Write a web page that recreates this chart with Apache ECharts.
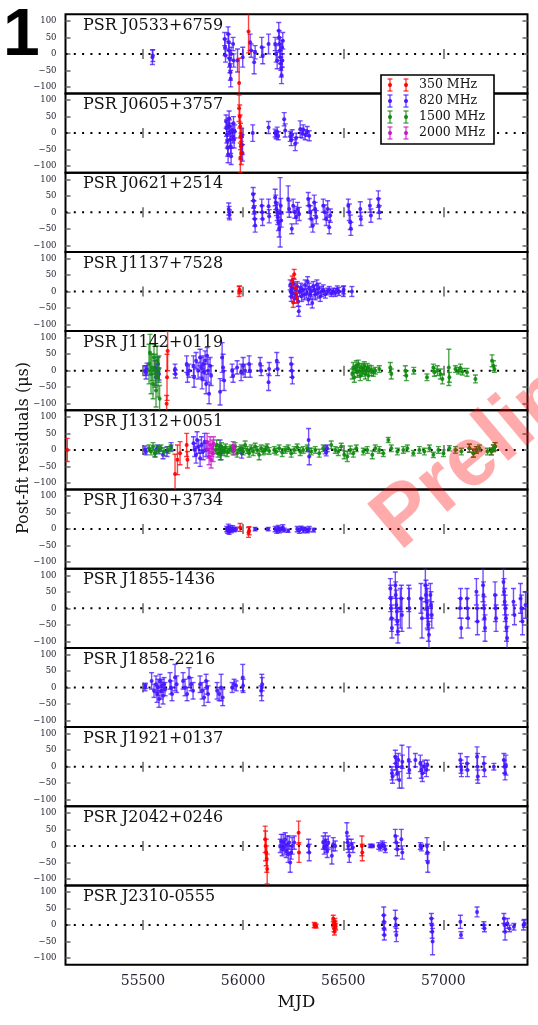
<!DOCTYPE html>
<html>
<head>
<meta charset="utf-8">
<script src="https://cdn.jsdelivr.net/npm/echarts@6/dist/echarts.min.js"></script>
<style>
  html, body { margin: 0; padding: 0; background: #fff; }
  #chart { width: 538px; height: 1025px; }
</style>
</head>
<body>
<div id="chart"></div>
<script>
// Timing residuals, [MJD, residual (us), uncertainty (us)] per observing band.

const J0533_820 = [[55547,-10,22],[55549,-5,18],[55908,45,20],[55910,20,25],[55912,-5,20],
  [55925,60,22],[55928,35,25],[55930,10,22],[55932,-15,25],[55934,-35,22],[55936,-55,25],[55938,-75,25],[55940,0,20],
  [55950,30,20],[55953,-20,20],[55972,-20,35],[55998,-10,30],[56035,35,25],[56040,10,20],[56055,-25,35],[56060,5,20],
  [56093,20,30],[56098,-5,25],[56127,30,30],[56160,30,20],[56165,0,25],[56170,-20,25],
  [56178,70,25],[56180,50,20],[56182,30,20],[56184,10,20],[56186,-10,20],[56188,-30,20],[56190,-45,25],[56192,-65,25],
  [56194,20,20],[56196,-20,20],[56198,40,25]];
const J0533_350 = [[55980,-88,75],[56027,68,65]];

const J0605_820 = [[55915,35,20],[55917,15,25],[55919,-5,25],[55921,-25,20],[55923,-45,25],[55925,-65,25],[55927,25,20],
  [55930,45,22],[55932,20,20],[55934,0,20],[55936,-20,25],[55938,-40,22],[55940,-70,25],[55945,10,20],[55948,-10,20],
  [55952,30,20],[55955,-20,25],[55958,5,20],[55993,-10,25],[55995,-35,30],[55997,-60,25],[56048,0,25],[56127,17,18],
  [56160,0,12],[56165,-5,12],[56170,3,15],[56175,-8,12],[56205,42,20],[56210,8,20],[56235,-10,15],[56240,-20,18],
  [56245,-5,15],[56260,-33,20],[56265,-15,15],[56285,12,25],[56295,0,15],[56300,10,15],[56310,-5,15],[56320,5,15],[56330,-8,15]];
const J0605_350 = [[55980,75,40],[55983,50,35],[55985,20,35],[55987,-10,40],[55989,-40,40],[55991,-60,35],[55986,-75,45]];

const J0621_820 = [[55928,10,18],[55930,0,18],[55932,-8,15],[56050,55,20],[56052,35,22],[56054,15,20],[56056,0,20],
  [56058,-20,22],[56060,-40,20],[56093,20,20],[56095,0,20],[56097,-20,20],[56127,18,22],[56130,-12,20],
  [56160,45,25],[56163,30,22],[56166,10,20],[56170,0,25],[56173,-15,22],[56176,-30,25],[56180,-50,25],[56185,0,105],
  [56188,20,22],[56190,-25,20],[56225,40,40],[56230,10,25],[56243,-50,15],[56250,20,20],[56258,0,18],[56265,-15,20],
  [56272,10,20],[56280,-5,20],[56325,40,20],[56330,20,22],[56335,0,20],[56340,-20,25],[56348,-40,20],[56355,30,22],
  [56360,10,20],[56365,-15,20],[56400,20,20],[56408,0,22],[56415,-20,20],[56422,10,25],[56430,-45,20],[56435,-10,20],
  [56525,20,20],[56530,0,25],[56535,-30,22],[56538,-50,20],[56585,10,22],[56588,-20,20],[56633,20,20],[56638,-10,20],
  [56675,40,25],[56677,20,22],[56680,0,20]];

const J1137_350 = [[55980,0,15],[55982,5,12],[56245,32,15],[56250,-33,15],[56255,52,15],[56262,10,15],[56268,-20,15]];
const J1137_820 = [[56235,20,15],[56238,0,15],[56240,-15,15],[56243,10,15],[56247,-5,15],[56252,25,15],[56256,-20,15],
  [56260,5,15],[56265,-10,15],[56270,15,15],[56275,-30,15],[56278,-60,15],[56282,0,15],[56288,10,15],[56292,-15,15],
  [56298,5,15],[56305,-10,15],[56310,20,15],[56316,-5,15],[56322,30,15],[56326,-25,15],[56330,10,15],[56335,-10,15],
  [56340,0,15],[56345,-35,15],[56350,15,15],[56355,5,15],[56360,-10,15],[56368,20,15],[56372,-5,15],[56378,10,15],
  [56385,-15,15],[56392,0,15],[56400,5,15],[56410,-8,12],[56420,0,10],[56430,5,10],[56440,-5,10],[56450,0,10],
  [56460,-3,12],[56470,5,12],[56478,0,12],[56500,0,15],[56502,5,12],[56543,0,15]];

const J1142_820 = [[55510,0,15],[55515,-5,20],[55520,5,18],[55560,10,20],[55565,-20,25],[55570,0,20],[55575,20,22],
  [55580,-10,18],[55660,5,15],[55662,-10,12],[55718,20,25],[55722,-10,25],[55730,0,20],[55752,15,30],[55755,-20,30],
  [55765,30,25],[55775,0,25],[55785,40,25],[55790,10,30],[55795,-25,30],[55800,20,25],[55805,-5,25],[55810,30,30],
  [55815,-40,30],[55820,45,25],[55825,0,35],[55830,-70,30],[55835,15,25],[55840,-15,30],[55885,-64,40],[55895,40,45],
  [55900,10,40],[55905,-30,30],[55945,0,20],[55950,-15,20],[55970,10,20],[55990,-5,25],[56000,15,25],[56010,0,20],
  [56030,20,25],[56035,0,20],[56085,20,20],[56090,0,15],[56127,-35,25],[56130,5,20],[56168,30,25],[56172,5,20],
  [56240,20,20],[56243,0,20],[56246,-20,20]];
const J1142_1500 = [[55530,20,60],[55535,55,55],[55540,-10,60],[55545,10,40],[55550,-40,45],[55555,40,40],
  [55560,0,50],[55565,-60,50],[55570,30,45],[55575,-20,60],[55580,5,40],[55583,-85,40],
  [56545,-10,15],[56550,10,15],[56555,-20,15],[56560,5,12],[56565,15,15],[56570,-5,15],[56575,20,12],[56580,0,15],
  [56585,-15,15],[56590,10,12],[56595,-5,12],[56600,5,15],[56605,15,12],[56610,-10,15],[56615,0,12],[56620,10,12],
  [56625,-15,15],[56630,5,12],[56640,0,15],[56650,-5,12],[56660,0,10],[56680,5,10],
  [56735,10,15],[56740,-10,15],[56810,0,15],[56815,-15,15],[56852,0,10],[56918,-20,10],[56950,10,10],[56955,-5,12],
  [56970,0,15],[56985,-10,15],[56995,-25,15],[57027,10,55],[57030,-20,15],[57060,5,10],[57075,0,10],[57085,8,12],
  [57095,-3,10],[57118,-5,12],[57160,-25,12],[57243,30,18],[57250,15,15],[57255,5,10]];
const J1142_350 = [[55618,-100,25],[55620,-20,70],[55623,60,60]];

const J1312_350 = [[55122,0,35],[55660,-73,60],[55672,-30,45],[55685,-10,35],[55718,15,35],[55722,-30,25],
  [57130,5,12],[57150,-10,12],[57165,0,10],[57240,-5,10],[57250,5,10],[57258,10,12]];
const J1312_820 = [[55510,0,12],[55515,-5,10],[55560,-10,12],[55570,5,10],[55580,0,12],[55600,-15,12],[55620,-5,15],
  [55640,10,12],[55752,20,20],[55758,0,20],[55765,-15,25],[55770,30,25],[55778,10,20],[55785,-25,25],[55792,15,25],
  [55800,-5,25],[55808,25,25],[55815,0,20],[55885,10,20],[55890,-10,20],[55993,-10,15],[56327,30,35],[56330,-20,25],
  [56410,0,12],[56415,-8,10],[56420,5,10]];
const J1312_1500 = [[55530,5,10],[55540,-5,10],[55550,10,12],[55560,-10,10],[55575,0,10],[55590,5,10],[55605,-5,12],
  [55625,0,10],[55640,5,10],[55862,0,12],[55868,15,15],[55874,-10,12],[55880,5,12],[55886,-15,15],[55892,10,12],
  [55898,0,10],[55905,-5,12],[55912,8,10],[55920,-8,12],[55930,0,10],[55940,5,10],[55950,-5,10],[55960,10,12],
  [55970,-10,12],[55980,0,10],[55990,5,10],[56000,-5,10],[56010,15,12],[56020,0,10],[56030,-10,12],[56040,5,10],
  [56050,-5,12],[56060,10,10],[56070,0,10],[56080,-15,15],[56090,5,10],[56100,-5,10],[56110,0,12],[56120,8,10],
  [56130,-3,10],[56155,0,10],[56165,-5,10],[56180,5,10],[56195,-8,12],[56210,0,10],[56225,5,10],[56240,-10,12],
  [56255,0,10],[56270,8,10],[56285,-5,12],[56300,0,10],[56320,5,10],[56340,-5,10],[56360,0,10],[56380,-10,12],
  [56400,5,10],[56440,15,12],[56460,0,10],[56475,-5,12],[56490,10,10],[56505,-15,12],[56520,-20,15],[56535,0,12],
  [56550,-10,12],[56565,5,10],[56600,-5,10],[56620,0,10],[56645,-15,12],[56660,5,10],[56680,0,10],[56700,-10,10],
  [56725,30,8],[56740,5,10],[56770,-5,10],[56800,0,10],[56820,5,10],[56850,-10,8],[56880,0,10],[56905,-5,10],
  [56930,5,10],[56950,-15,8],[56975,0,10],[57000,-10,10],[57030,5,8],[57060,0,10],[57090,-5,10],[57130,5,12],
  [57150,-10,12],[57165,0,10],[57180,5,10],[57220,-5,10],[57240,-5,10],[57250,5,10],[57258,10,12]];
const J1312_2000 = [[55820,25,25],[55825,0,25],[55830,-20,25],[55835,15,25],[55840,-30,25],[55845,5,25],
  [55850,-10,25],[55852,20,20],[55950,10,15],[55955,0,15]];

const J1630_820 = [[55918,0,8],[55922,-5,8],[55926,5,10],[55930,-8,8],[55935,3,8],[55940,-3,8],[55948,2,8],
  [55955,-2,6],[55965,0,6],[56060,0,5],[56125,0,5],[56160,0,8],[56168,-5,8],[56175,3,8],[56182,-3,8],[56190,0,6],
  [56198,5,8],[56205,-3,6],[56225,-5,5],[56270,0,8],[56280,-5,8],[56290,3,6],[56300,-3,8],[56310,0,6],[56320,-5,6],
  [56330,0,8],[56352,-3,6]];
const J1630_350 = [[55985,5,12],[56027,-10,15],[56030,-5,12]];

const J1855_820 = [[56735,60,30],[56737,30,40],[56739,0,35],[56741,-30,40],[56743,-60,30],[56760,70,40],[56762,40,40],
  [56765,10,45],[56768,-10,40],[56770,-40,40],[56773,-70,35],[56785,0,60],[56790,30,40],[56793,-20,50],[56827,30,40],
  [56830,0,60],[56888,30,45],[56893,-30,60],[56910,70,50],[56913,40,45],[56916,20,50],[56919,0,60],[56922,-20,45],
  [56925,-50,50],[56928,-80,40],[56935,40,35],[56938,10,40],[56942,-20,40],[57083,0,30],[57086,30,30],[57089,-60,30],
  [57118,30,30],[57120,0,30],[57123,-30,30],[57165,50,40],[57168,0,40],[57170,-40,40],[57198,70,50],[57200,40,40],
  [57203,0,35],[57205,-30,40],[57208,-60,40],[57258,40,40],[57260,0,40],[57263,-30,40],[57300,80,40],[57303,50,40],
  [57306,20,40],[57309,0,40],[57312,-30,40],[57315,-60,40],[57318,-90,35],[57350,20,40],[57355,-20,30],[57385,30,45],
  [57390,0,40],[57395,-40,40],[57410,10,40]];

const J1858_820 = [[55510,0,10],[55512,5,8],[55543,20,25],[55555,-10,20],[55565,10,25],[55570,-20,25],[55575,0,25],
  [55580,-35,25],[55585,20,20],[55590,-10,25],[55595,5,20],[55600,-25,25],[55605,10,20],[55610,-5,20],[55635,20,25],
  [55640,0,20],[55645,-20,20],[55660,30,40],[55668,10,25],[55700,20,25],[55710,0,25],[55720,-20,20],[55730,30,30],
  [55740,10,20],[55750,-10,25],[55785,10,25],[55795,-10,25],[55805,-30,25],[55815,20,20],[55820,0,20],[55825,-20,25],
  [55870,-10,25],[55880,-20,20],[55890,0,40],[55898,-30,25],[55945,0,15],[55955,10,15],[55965,5,15],[55998,30,40],
  [56000,5,20],[56090,-10,15],[56093,0,40],[56095,10,20]];

const J1921_820 = [[56743,-20,20],[56746,-30,20],[56760,30,20],[56763,10,20],[56766,0,25],[56770,-20,20],[56775,20,20],
  [56780,-40,25],[56793,0,65],[56795,15,20],[56827,20,40],[56830,-10,25],[56860,20,20],[56885,10,25],[56890,-10,25],
  [56895,-20,25],[56905,0,20],[56915,-10,20],[56920,5,15],[57085,20,20],[57088,0,20],[57090,-10,20],[57118,10,20],
  [57120,-10,20],[57168,30,30],[57170,0,40],[57172,-30,20],[57202,10,20],[57205,-10,20],[57252,0,10],[57302,20,20],
  [57305,0,20],[57308,-20,20],[57312,5,30]];

const J2042_350 = [[56110,20,40],[56112,0,45],[56115,-20,40],[56118,-40,40],[56120,-70,45],[56277,40,35],[56279,-20,30],
  [56593,0,30],[56595,-20,25]];
const J2042_820 = [[56185,0,20],[56190,15,20],[56195,-10,20],[56200,10,25],[56205,-5,20],[56210,20,20],[56215,-15,20],
  [56220,5,25],[56225,-25,25],[56230,10,20],[56235,-50,30],[56240,-20,20],[56245,0,25],[56255,10,20],[56327,0,20],
  [56330,-20,25],[56400,10,20],[56405,-5,20],[56410,15,25],[56415,0,20],[56420,-15,20],[56425,10,20],[56443,-30,25],
  [56450,5,20],[56460,0,15],[56518,40,30],[56522,10,20],[56525,0,20],[56530,-30,20],[56540,5,15],[56548,-5,15],
  [56635,0,5],[56645,0,5],[56677,0,10],[56685,-5,10],[56695,5,10],[56705,0,10],[56710,-10,10],[56760,30,20],
  [56765,10,20],[56770,-10,20],[56790,20,30],[56795,-20,20],[56885,0,10],[56890,-5,10],[56918,0,25],[56920,-20,25],
  [56922,-50,30]];

const J2310_350 = [[56355,0,8],[56360,0,6],[56365,-3,6],[56450,20,10],[56452,5,10],[56454,-10,10],[56456,-20,10],
  [56458,10,10],[56460,0,12],[56462,-5,10]];
const J2310_820 = [[56702,30,25],[56703,10,20],[56704,-10,20],[56705,-30,15],[56760,20,25],[56763,0,20],[56765,-30,20],
  [56940,20,15],[56942,0,20],[56944,-20,20],[56946,-50,40],[57085,10,20],[57088,-30,10],[57168,40,15],[57202,0,10],
  [57205,-10,10],[57302,20,15],[57305,0,20],[57308,-20,25],[57320,5,15],[57330,-10,10],[57352,-5,10],[57400,0,15],
  [57405,5,12]];

const pulsarNames = ['PSR J0533+6759','PSR J0605+3757','PSR J0621+2514','PSR J1137+7528','PSR J1142+0119',
  'PSR J1312+0051','PSR J1630+3734','PSR J1855-1436','PSR J1858-2216','PSR J1921+0137','PSR J2042+0246','PSR J2310-0555'];

// Per panel: list of [band, data] drawn in this order
const panelBands = [
  [['820', J0533_820], ['350', J0533_350]],
  [['820', J0605_820], ['350', J0605_350]],
  [['820', J0621_820]],
  [['820', J1137_820], ['350', J1137_350]],
  [['820', J1142_820], ['1500', J1142_1500], ['350', J1142_350]],
  [['350', J1312_350], ['820', J1312_820], ['1500', J1312_1500], ['2000', J1312_2000]],
  [['820', J1630_820], ['350', J1630_350]],
  [['820', J1855_820]],
  [['820', J1858_820]],
  [['820', J1921_820]],
  [['820', J2042_820], ['350', J2042_350]],
  [['820', J2310_820], ['350', J2310_350]]
];

const bandNames = ['350', '820', '1500', '2000'];
const bandLabels = ['350 MHz', '820 MHz', '1500 MHz', '2000 MHz'];
const xTicks = [55500, 56000, 56500, 57000];
const yTicks = [-100, -50, 0, 50, 100];
const xRange = [55113, 57420];
const yRange = [-120, 120];

const bandColors = { '350': '#ff0000', '820': '#4516ff', '1500': '#108a10', '2000': '#cc14cc' };

// Layout
const GRID_LEFT = 65.5, GRID_WIDTH = 462, GRID_TOP = 14.3, PANEL_H = 79.2;
const SERIF = '"DejaVu Serif", "Liberation Serif", serif';
const LABEL_COLOR = '#252535';

const minusFmt = v => (v < 0 ? '\u2212' + Math.abs(v) : String(v));

function errorBarRenderer(color) {
  return function (params, api) {
    const x = api.value(0), y = api.value(1), e = api.value(2);
    const c = api.coord([x, y]);
    const hi = api.coord([x, y + e])[1];
    const lo = api.coord([x, y - e])[1];
    const st = { stroke: color, lineWidth: 1.4, opacity: 0.75 };
    return {
      type: 'group',
      children: [
        { type: 'line', shape: { x1: c[0], y1: hi, x2: c[0], y2: lo }, style: st },
        { type: 'line', shape: { x1: c[0] - 2.5, y1: hi, x2: c[0] + 2.5, y2: hi }, style: st },
        { type: 'line', shape: { x1: c[0] - 2.5, y1: lo, x2: c[0] + 2.5, y2: lo }, style: st },
        { type: 'circle', shape: { cx: c[0], cy: c[1], r: 2 }, style: { fill: color, opacity: 0.9 } }
      ]
    };
  };
}

const grids = [], xAxes = [], yAxes = [], series = [], graphics = [];
const n = pulsarNames.length;

pulsarNames.forEach((name, i) => {
  const top = GRID_TOP + i * PANEL_H;
  grids.push({ left: GRID_LEFT, width: GRID_WIDTH, top: top, height: PANEL_H,
    show: true, borderColor: '#000', borderWidth: 2, backgroundColor: 'transparent' });
  const isLast = i === n - 1;
  const tickStyle = { show: true, inside: true, length: 5, lineStyle: { color: '#666', width: 1.5 } };
  // bottom and top x axes
  ['bottom', 'top'].forEach(pos => {
    xAxes.push({
      type: 'value', gridIndex: i, position: pos, min: xRange[0], max: xRange[1],
      axisLine: { show: false }, splitLine: { show: false },
      axisTick: Object.assign({ customValues: xTicks }, tickStyle),
      axisLabel: {
        show: isLast && pos === 'bottom', customValues: xTicks, margin: 10, formatter: v => String(v),
        fontFamily: SERIF, fontSize: 14, color: LABEL_COLOR
      }
    });
  });
  ['left', 'right'].forEach(pos => {
    yAxes.push({
      type: 'value', gridIndex: i, position: pos, min: yRange[0], max: yRange[1],
      axisLine: { show: false }, splitLine: { show: false },
      axisTick: Object.assign({ customValues: yTicks }, tickStyle),
      axisLabel: {
        show: pos === 'left', customValues: yTicks, margin: 9, formatter: minusFmt,
        fontFamily: SERIF, fontSize: 8.5, color: LABEL_COLOR
      }
    });
  });
  // dotted zero reference line
  series.push({
    type: 'line', xAxisIndex: 2 * i, yAxisIndex: 2 * i, data: [[xRange[0], 0], [xRange[1], 0]],
    symbol: 'none', silent: true, z: 1, animation: false,
    lineStyle: { color: '#000', width: 2, type: [2, 6.3] }
  });
  panelBands[i].forEach(([band, data]) => {
    series.push({
      type: 'custom', name: band + ' MHz', xAxisIndex: 2 * i, yAxisIndex: 2 * i,
      data: data, clip: true, z: 2, animation: false, silent: true,
      renderItem: errorBarRenderer(bandColors[band])
    });
  });
  graphics.push({
    type: 'text', x: 83, y: top + 11.5, silent: true, z: 50,
    style: { text: name, font: '16px ' + SERIF, fill: '#111', textVerticalAlign: 'middle' }
  });
});

// Legend box with paired error-bar glyphs
const LEG = { x: 381, y: 75, w: 113, h: 69 };
graphics.push({
  type: 'rect', z: 60, silent: true,
  shape: { x: LEG.x, y: LEG.y, width: LEG.w, height: LEG.h },
  style: { fill: '#fff', stroke: '#000', lineWidth: 1.6 }
});
bandNames.forEach((band, k) => {
  const cy = 85 + k * 16;
  const color = bandColors[band];
  [390, 406].forEach(cx => {
    const st = { stroke: color, lineWidth: 1.3, opacity: 0.8 };
    graphics.push({ type: 'line', z: 61, silent: true, shape: { x1: cx, y1: cy - 6, x2: cx, y2: cy + 6 }, style: st });
    graphics.push({ type: 'line', z: 61, silent: true, shape: { x1: cx - 2.5, y1: cy - 6, x2: cx + 2.5, y2: cy - 6 }, style: st });
    graphics.push({ type: 'line', z: 61, silent: true, shape: { x1: cx - 2.5, y1: cy + 6, x2: cx + 2.5, y2: cy + 6 }, style: st });
    graphics.push({ type: 'circle', z: 61, silent: true, shape: { cx: cx, cy: cy, r: 2 }, style: { fill: color } });
  });
  graphics.push({
    type: 'text', z: 61, silent: true, x: 419, y: cy,
    style: { text: bandLabels[k], font: '12.5px ' + SERIF, fill: '#111', textVerticalAlign: 'middle' }
  });
});

// Axis titles
graphics.push({
  type: 'text', x: 24, y: 448, rotation: Math.PI / 2, silent: true,
  style: { text: 'Post-fit residuals (\u03bcs)', font: '16px ' + SERIF, fill: '#111',
    textAlign: 'center', textVerticalAlign: 'middle' }
});
graphics.push({
  type: 'text', x: GRID_LEFT + GRID_WIDTH / 2, y: 1003, silent: true,
  style: { text: 'MJD', font: '17px ' + SERIF, fill: '#111', textAlign: 'center', textVerticalAlign: 'middle' }
});

// Figure number
graphics.push({
  type: 'text', x: 3, y: 4, silent: true,
  style: { text: '1', font: 'bold 66px "Liberation Sans", Arial, sans-serif', fill: '#000', textVerticalAlign: 'top' }
});

// Watermark
graphics.push({
  type: 'text', x: 412, y: 566, rotation: 40 * Math.PI / 180, silent: true, z: 200,
  style: { text: 'Preliminary', font: 'bold 84px "Liberation Sans", Arial, sans-serif',
    fill: 'rgba(255,0,0,0.33)', textVerticalAlign: 'bottom' }
});

const chart = echarts.init(document.getElementById('chart'), null, { renderer: 'canvas' });
chart.setOption({
  animation: false,
  backgroundColor: '#fff',
  grid: grids,
  xAxis: xAxes,
  yAxis: yAxes,
  series: series,
  graphic: { elements: graphics }
});
</script>
</body>
</html>
